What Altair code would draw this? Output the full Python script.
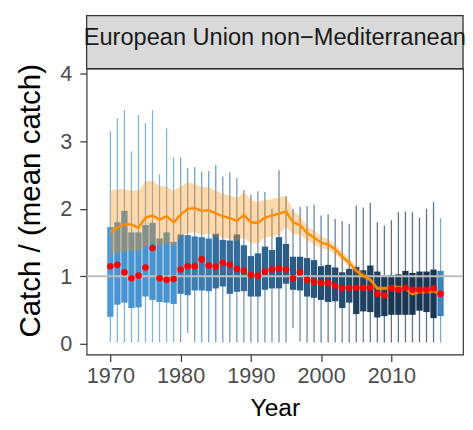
import altair as alt
import pandas as pd

years = list(range(1970, 2018))

whisker_lo = [0.02, 0.02, 0.02, 0.02, 0.02, 0.02, 0.02, 0.02, 0.02, 0.02,
              0.02, 0.16, 0.02, 0.02, 0.02, 0.02, 0.02, 0.02, 0.02, 0.02,
              0.02, 0.02, 0.02, 0.02, 0.02, 0.02, 0.23, 0.03, 0.02, 0.02,
              0.02, 0.02, 0.02, 0.02, 0.02, 0.02, 0.02, 0.02, 0.02, 0.02,
              0.02, 0.02, 0.02, 0.02, 0.02, 0.02, 0.02, 0.02]
whisker_hi = [3.15, 3.34, 3.46, 2.85, 3.39, 3.27, 3.46, 2.51, 3.19, 2.76,
              2.76, 2.60, 2.62, 2.55, 2.56, 2.65, 2.48, 2.54, 2.46, 2.28,
              2.21, 2.26, 2.25, 2.00, 2.57, 2.19, 2.00, 2.03, 2.04, 2.06,
              1.90, 1.92, 1.85, 1.82, 1.78, 2.05, 2.02, 2.09, 1.80, 1.75,
              1.83, 1.95, 1.96, 1.95, 1.87, 2.00, 2.10, 1.86]
box_lo = [0.40, 0.58, 0.61, 0.53, 0.54, 0.70, 0.65, 0.62, 0.61, 0.59,
          0.74, 0.72, 0.79, 0.79, 0.78, 0.82, 0.85, 0.74, 0.77, 0.78,
          0.70, 0.70, 0.80, 0.82, 0.82, 0.89, 0.80, 0.79, 0.70, 0.68,
          0.65, 0.62, 0.63, 0.53, 0.61, 0.44, 0.48, 0.47, 0.39, 0.41,
          0.43, 0.43, 0.43, 0.43, 0.49, 0.47, 0.38, 0.41]
box_hi = [1.73, 1.80, 1.97, 1.65, 1.65, 1.76, 1.79, 1.56, 1.65, 1.51,
          1.62, 1.61, 1.59, 1.58, 1.56, 1.63, 1.54, 1.53, 1.62, 1.46,
          1.30, 1.34, 1.44, 1.39, 1.58, 1.48, 1.29, 1.29, 1.27, 1.24,
          1.15, 1.17, 1.13, 1.06, 1.11, 1.14, 1.09, 1.16, 1.07, 1.01,
          1.02, 1.03, 1.08, 1.05, 1.07, 1.07, 1.10, 1.08]
shade = [0.85, 0.80, 0.80, 0.80, 0.80, 0.80, 0.80, 0.80, 0.80, 0.80,
         0.64, 0.64, 0.62, 0.62, 0.62, 0.52, 0.52, 0.52, 0.52, 0.50,
         0.46, 0.46, 0.46, 0.45, 0.40, 0.40, 0.38, 0.38, 0.38, 0.36,
         0.28, 0.28, 0.28, 0.28, 0.28, 0.18, 0.18, 0.18, 0.16, 0.14,
         0.10, 0.10, 0.10, 0.10, 0.10, 0.10, 0.10, 0.68]
median_pt = [1.15, 1.17, 1.06, 0.97, 1.01, 1.13, 1.42, 0.97, 0.95, 0.96,
             1.10, 1.15, 1.15, 1.25, 1.16, 1.14, 1.20, 1.17, 1.11, 1.08,
             1.02, 1.01, 1.07, 1.10, 1.12, 1.10, 0.97, 1.06, 0.95, 0.92,
             0.90, 0.90, 0.86, 0.83, 0.83, 0.83, 0.83, 0.83, 0.74, 0.72,
             0.82, 0.80, 0.83, 0.80, 0.80, 0.80, 0.82, 0.74]
trend = [1.65, 1.72, 1.77, 1.77, 1.72, 1.87, 1.90, 1.84, 1.89, 1.80,
         1.91, 2.00, 2.01, 1.97, 1.98, 1.93, 1.89, 1.86, 1.82, 1.91,
         1.80, 1.79, 1.87, 1.90, 1.93, 1.96, 1.80, 1.76, 1.64, 1.57,
         1.50, 1.47, 1.40, 1.29, 1.20, 1.08, 1.01, 0.95, 0.82, 0.82,
         0.84, 0.84, 0.82, 0.74, 0.77, 0.77, 0.78, 0.74]
band_lo = [1.32, 1.35, 1.37, 1.38, 1.37, 1.45, 1.49, 1.45, 1.49, 1.44,
           1.59, 1.64, 1.65, 1.62, 1.63, 1.59, 1.57, 1.55, 1.52, 1.58,
           1.49, 1.49, 1.57, 1.59, 1.62, 1.73, 1.62, 1.62, 1.53, 1.47,
           1.41, 1.39, 1.33, 1.23, 1.14, 1.03, 0.97, 0.91, 0.79, 0.79,
           0.81, 0.81, 0.79, 0.71, 0.74, 0.74, 0.75, 0.71]
band_hi = [2.27, 2.29, 2.29, 2.27, 2.27, 2.41, 2.41, 2.34, 2.33, 2.27,
           2.33, 2.39, 2.37, 2.32, 2.32, 2.27, 2.22, 2.20, 2.16, 2.25,
           2.13, 2.10, 2.13, 2.14, 2.17, 2.19, 1.97, 1.89, 1.75, 1.67,
           1.59, 1.55, 1.47, 1.36, 1.27, 1.14, 1.06, 0.99, 0.86, 0.85,
           0.87, 0.87, 0.85, 0.77, 0.80, 0.80, 0.81, 0.77]

strip_label = ["European Union non\u2212Mediterranean"]
x_ticks = [1970, 1980, 1990, 2000, 2010]
y_ticks = [0, 1, 2, 3, 4]

df = pd.DataFrame({
    "Year": years, "wlo": whisker_lo, "whi": whisker_hi,
    "blo": box_lo, "bhi": box_hi, "shade": shade,
    "med": median_pt, "trend": trend, "rlo": band_lo, "rhi": band_hi,
})

W, H = 383, 291
FONT = "Liberation Sans"

xs = alt.Scale(domain=[1967.32, 2019.5], nice=False, zero=False)
ys = alt.Scale(domain=[-0.16, 4.076], nice=False, zero=False)
cs = alt.Scale(domain=[0, 1], range=["#132B43", "#56B1F7"], interpolate="lab")

x_axis = alt.Axis(values=x_ticks, format="d", title="Year", titleFontSize=25,
                  labelFontSize=22, tickSize=7, labelPadding=4, titlePadding=10,
                  titleFontWeight="normal")
y_axis = alt.Axis(values=y_ticks, format="d", title="Catch / (mean catch)",
                  titleFontSize=30, labelFontSize=22, tickSize=7, labelPadding=8,
                  titleFontWeight="normal", titleX=-48, titleY=134,
                  titleBaseline="alphabetic", titleAlign="center", titleAngle=270)

base = alt.Chart(df)

whiskers = base.mark_rule(strokeWidth=1.3, opacity=0.7).encode(
    x=alt.X("Year:Q", scale=xs, axis=x_axis),
    y=alt.Y("wlo:Q", scale=ys, axis=y_axis),
    y2="whi:Q",
    color=alt.Color("shade:Q", scale=cs, legend=None),
)

boxes = base.mark_bar(size=6.4).encode(
    x=alt.X("Year:Q", scale=xs),
    y=alt.Y("blo:Q", scale=ys),
    y2="bhi:Q",
    color=alt.Color("shade:Q", scale=cs, legend=None),
)

hline = alt.Chart(pd.DataFrame({"ref": [1]})).mark_rule(
    color="#BEBEBE", strokeWidth=2
).encode(y=alt.Y("ref:Q", scale=ys))

ribbon = base.mark_area(color="#FF8C00", opacity=0.33).encode(
    x=alt.X("Year:Q", scale=xs),
    y=alt.Y("rlo:Q", scale=ys),
    y2="rhi:Q",
)

line = base.mark_line(color="#FF8C00", strokeWidth=2.4).encode(
    x=alt.X("Year:Q", scale=xs),
    y=alt.Y("trend:Q", scale=ys),
)

points = base.mark_circle(color="#FF0000", size=45, opacity=1).encode(
    x=alt.X("Year:Q", scale=xs),
    y=alt.Y("med:Q", scale=ys),
)

strip_df = pd.DataFrame({"label": strip_label})
strip_box = alt.Chart(strip_df).mark_rect(
    fill="#D9D9D9", stroke="#333333", strokeWidth=1.3
).encode(x=alt.value(0), x2=alt.value(W), y=alt.value(-54), y2=alt.value(0))
strip_text = alt.Chart(strip_df).mark_text(
    fontSize=24, font=FONT, color="#1A1A1A", baseline="alphabetic", align="center"
).encode(x=alt.value(W / 2), y=alt.value(-24), text="label:N")

chart = alt.layer(
    whiskers, boxes, hline, ribbon, line, points, strip_box, strip_text
).properties(
    width=W, height=H,
    autosize=alt.AutoSizeParams(type="none"),
    padding={"left": 80, "top": 58, "right": 2, "bottom": 72},
).configure_view(
    stroke="#333333", strokeWidth=1.2
).configure_axis(
    domain=False, grid=False, tickColor="#333333", tickWidth=1.2,
    labelColor="#4D4D4D", titleColor="#000000",
    labelFont=FONT, titleFont=FONT,
)

chart.save("out.html", embed_options={"renderer": "svg", "actions": False})
